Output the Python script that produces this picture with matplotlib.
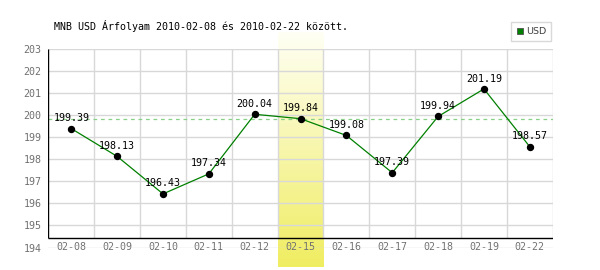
import numpy as np
import matplotlib
matplotlib.use('Agg')
import matplotlib.pyplot as plt
from matplotlib.lines import Line2D

# data
dates  = ['02-08', '02-09', '02-10', '02-11', '02-12', '02-15',
          '02-16', '02-17', '02-18', '02-19', '02-22']
usd    = [199.39, 198.13, 196.43, 197.34, 200.04, 199.84,
          199.08, 197.39, 199.94, 201.19, 198.57]
yticks = list(range(194, 204))
hl_day = '02-15'
title  = 'MNB USD Árfolyam 2010-02-08 és 2010-02-22 között.'

plt.rcParams['font.family'] = 'DejaVu Sans Mono'
plt.rcParams['font.size'] = 7.2

W, H = 600., 270.
fig = plt.figure(figsize=(6, 2.7), dpi=100)
ax = fig.add_axes([48.4/W, 1-247.5/H, 504.3/W, 198.5/H])
ax.patch.set_alpha(0)

x = np.arange(len(dates))
ymin, ymax = yticks[0], yticks[-1]
floor = 194.43   # where the black x axis is drawn

# highlighted day: vertical yellow gradient
ih = dates.index(hl_day)
grad = np.linspace(0, 1, 256).reshape(-1, 1)
top = np.array([1.0, 1.0, 0.96])
bot = np.array([0.94, 0.93, 0.38])
img = top[None, None, :] * (1-grad[..., None]) + bot[None, None, :] * grad[..., None]
ax.imshow(img, extent=(ih-0.5, ih+0.5, 193.12, 203.77), aspect='auto',
          origin='upper', clip_on=False, zorder=0)

# grid
ax.set_axisbelow(True)
ax.set_yticks(yticks)
ax.yaxis.grid(True, color='#d8d8d8', lw=1)
ax.vlines(np.arange(0.5, len(dates)), floor, ymax, color='#d8d8d8', lw=1, zorder=0.5)
ax.vlines(-0.5, floor, ymax, color='black', lw=1, zorder=2)
ax.hlines(floor, -0.5, len(dates)-0.5, color='black', lw=1, zorder=2)

# reference level of the highlighted day
ax.axhline(usd[ih], color='#88d088', lw=0.9, linestyle=(0, (3, 3)), zorder=1)

# series
ax.plot(x, usd, color='#008000', lw=0.9, zorder=3)
ax.plot(x, usd, 'o', color='black', ms=4.3, zorder=4)
for xi, v in zip(x, usd):
    ax.annotate('{:.2f}'.format(v), (xi, v), xytext=(0, 7.5), textcoords='offset points',
                ha='center', va='center', fontsize=7.2, color='black', zorder=5)

ax.set_xlim(-0.5, len(dates)-0.5)
ax.set_ylim(ymin, ymax)
ax.set_xticks(x)
ax.set_xticklabels(dates, va='center')
ax.tick_params(axis='x', length=0, pad=0, colors='#707070', labelsize=7.2)
ax.tick_params(axis='y', length=0, pad=5, colors='#707070', labelsize=7.2)
for s in ax.spines.values():
    s.set_visible(False)

fig.text(54/W, 1-26/H, title, va='center', ha='left', fontsize=7.2, color='black')

h = Line2D([], [], marker='s', color='none', markerfacecolor='#008000',
           markeredgecolor='#505050', markeredgewidth=0.6, ms=4.3)
leg = fig.legend(handles=[h], labels=['USD'], loc='upper left',
                 bbox_to_anchor=(511/W, 1-22/H), frameon=True, fancybox=False,
                 edgecolor='#d0d0d0', handlelength=0.7, handletextpad=0.3,
                 borderpad=0.55, borderaxespad=0, prop={'family': 'DejaVu Sans', 'size': 6.8})
leg.get_frame().set_linewidth(1)
for t in leg.get_texts():
    t.set_color('#404040')

fig.savefig('out.png', dpi=100)
